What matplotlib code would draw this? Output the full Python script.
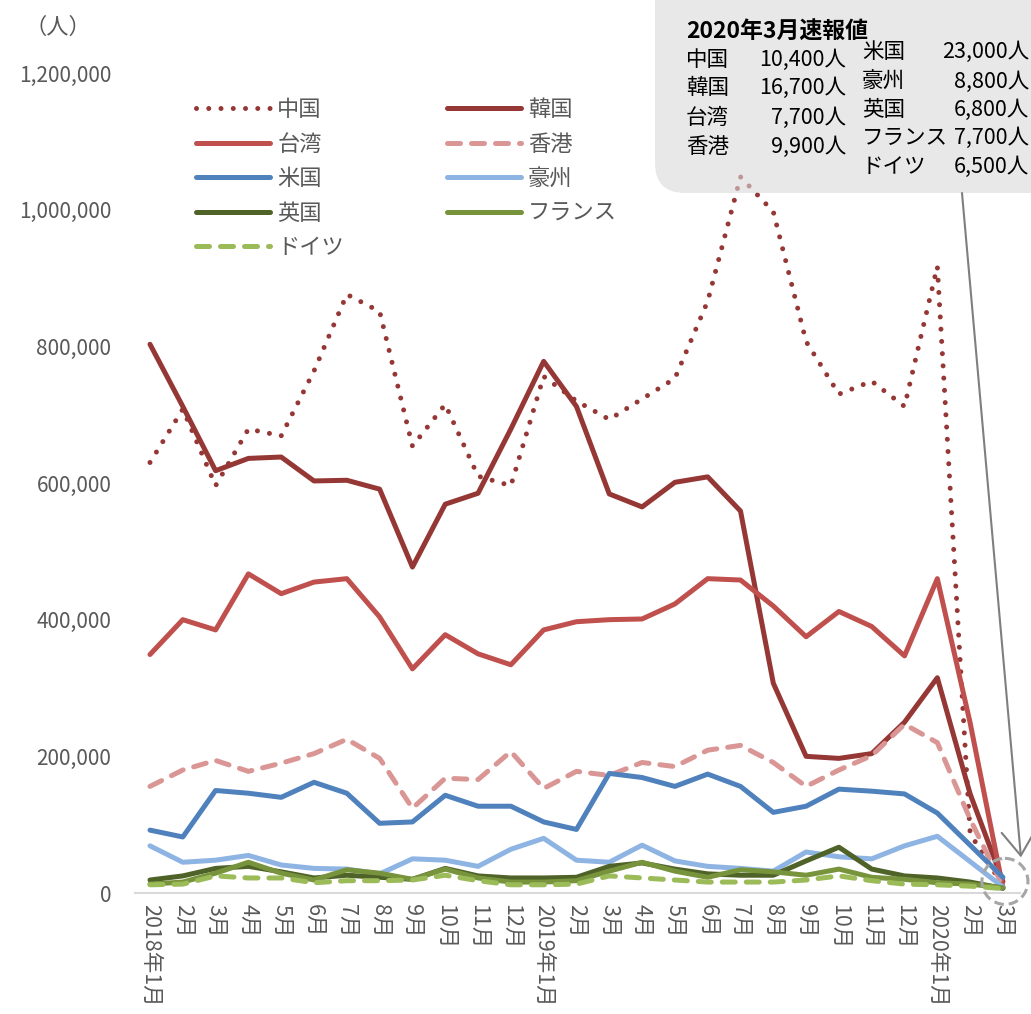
import matplotlib.pyplot as plt
from matplotlib.patches import FancyBboxPatch, Circle

plt.rcParams['font.family'] = ['Noto Sans CJK JP', 'DejaVu Sans']

# 2018年1月〜2020年3月 訪日外客数（人）
months = ['2018年1月', '2月', '3月', '4月', '5月', '6月', '7月', '8月', '9月', '10月', '11月', '12月',
          '2019年1月', '2月', '3月', '4月', '5月', '6月', '7月', '8月', '9月', '10月', '11月', '12月',
          '2020年1月', '2月', '3月']

china = [630000, 708000, 596000, 679000, 669000, 764000, 876000, 851000, 654000, 715000, 610000, 596000,
         756000, 720000, 693000, 723000, 753000, 866000, 1048000, 997000, 807000, 730000, 749000, 712000,
         917000, 87000, 10400]
korea = [803000, 712000, 618000, 636000, 638000, 603000, 604000, 591000, 477000, 569000, 585000, 679000,
         778000, 712000, 584000, 565000, 601000, 609000, 559000, 307000, 200000, 197000, 204000, 250000,
         315000, 145000, 16700]
taiwan = [349000, 400000, 385000, 467000, 438000, 455000, 460000, 404000, 328000, 378000, 350000, 334000,
          385000, 397000, 400000, 401000, 423000, 460000, 458000, 420000, 375000, 412000, 390000, 347000,
          460000, 249000, 7700]
hongkong = [156000, 180000, 194000, 178000, 190000, 204000, 225000, 197000, 124000, 168000, 166000, 207000,
            153000, 178000, 172000, 191000, 185000, 209000, 216000, 191000, 156000, 180000, 201000, 247000,
            220000, 108000, 9900]
usa = [92000, 82000, 150000, 146000, 140000, 162000, 146000, 102000, 104000, 143000, 127000, 127000,
       104000, 93000, 175000, 169000, 156000, 174000, 156000, 118000, 127000, 152000, 149000, 145000,
       117000, 70000, 23000]
australia = [69000, 45000, 48000, 55000, 41000, 36000, 35000, 28000, 50000, 48000, 39000, 64000,
             80000, 48000, 45000, 70000, 47000, 39000, 36000, 32000, 60000, 53000, 50000, 69000,
             83000, 46000, 8800]
uk = [19000, 25000, 36000, 39000, 31000, 22000, 26000, 23000, 20000, 36000, 25000, 22000,
      22000, 23000, 39000, 44000, 35000, 28000, 26000, 26000, 47000, 67000, 35000, 25000,
      22000, 16000, 6800]
france = [13000, 16000, 29000, 45000, 29000, 19000, 34000, 29000, 20000, 35000, 22000, 16000,
          16000, 18000, 32000, 45000, 32000, 23000, 34000, 31000, 26000, 35000, 23000, 20000,
          15000, 13000, 7700]
germany = [12000, 13000, 25000, 22000, 22000, 15000, 18000, 18000, 19000, 26000, 18000, 12000,
           12000, 13000, 25000, 22000, 19000, 16000, 16000, 16000, 19000, 25000, 18000, 13000,
           12000, 10000, 6500]

names = ['中国', '韓国', '台湾', '香港', '米国', '豪州', '英国', 'フランス', 'ドイツ']
values = [china, korea, taiwan, hongkong, usa, australia, uk, france, germany]
colors = ['#953735', '#953735', '#C0504D', '#D99694', '#4F81BD', '#8EB4E3', '#4F6228', '#77933C', '#9BBB59']
dotted = (0, (0.001, 2.45))
dashed = (0, (2.6, 2.2))
styles = [dotted, '-', '-', dashed, '-', '-', '-', '-', dashed]

W, H = 1031, 1014
gray = '#595959'
fig = plt.figure(figsize=(W / 100, H / 100), dpi=100)
ax = fig.add_axes([135 / W, (H - 893) / H, (1020 - 135) / W, (893 - 73) / H])

x = list(range(len(months)))
lines = []
for name, vals, c, ls in zip(names, values, colors, styles):
    ln, = ax.plot(x, vals, color=c, lw=3.6, linestyle=ls, label=name,
                  dash_capstyle='round', solid_capstyle='round', solid_joinstyle='round')
    lines.append(ln)

ax.set_xlim(-0.457, 26.52)
ax.set_ylim(0, 1200000)
yt = list(range(0, 1200001, 200000))
ax.set_yticks(yt)
ax.set_yticklabels([f'{v:,}' for v in yt], fontsize=15, color=gray)
ax.set_xticks(x)
ax.set_xticklabels(months, rotation=-90, va='top', ha='center', fontsize=15.5, color=gray)
ax.tick_params(axis='y', length=0, pad=17)
ax.tick_params(axis='x', length=0, pad=8)
for s in ['top', 'right', 'left']:
    ax.spines[s].set_visible(False)
ax.spines['bottom'].set_color('#d9d9d9')
ax.spines['bottom'].set_linewidth(1.5)

# overlay in pixel coordinates for annotations
ov = fig.add_axes([0, 0, 1, 1], zorder=5)
ov.set_xlim(0, W)
ov.set_ylim(H, 0)
ov.axis('off')
ov.patch.set_alpha(0)

order = [0, 2, 4, 6, 8, 1, 3, 5, 7]
ax.legend([lines[i] for i in order], [names[i] for i in order], ncol=2, frameon=False,
          loc='upper left', bbox_to_anchor=(196, 98), bbox_transform=ov.transData,
          fontsize=16, handlelength=3.35, handletextpad=0.3, labelspacing=0.52,
          columnspacing=4.63, borderpad=0, borderaxespad=0, labelcolor=gray)

ov.text(25, 27, '（人）', fontsize=16, color=gray, va='center', ha='left')

box = FancyBboxPatch((655, -60), 430, 253, boxstyle='round,pad=0,rounding_size=30',
                     fc='#d9d9d9', ec='none', alpha=0.6)
ov.add_patch(box)
ov.text(686, 32, '2020年3月速報値', fontsize=16.5, fontweight='bold', color='black', va='center')
left_y = [60, 88, 118, 147]
right_y = [52, 82, 110, 138, 167]
for i, yy in enumerate(left_y):
    ov.text(686, yy, names[i], fontsize=15.5, va='center', ha='left', color='black')
    ov.text(846, yy, f'{values[i][-1]:,}人', fontsize=15.5, va='center', ha='right', color='black')
for i, yy in enumerate(right_y):
    ov.text(862, yy, names[4 + i], fontsize=15.5, va='center', ha='left', color='black')
    ov.text(1029, yy, f'{values[4 + i][-1]:,}人', fontsize=15.5, va='center', ha='right', color='black')

# circle around the March 2020 points
dx, dy = ax.transData.transform((len(months) - 1, 17000))
cx, cy = dx, H - dy
ov.add_patch(Circle((cx + 2, cy), 23, fill=False, ec='#a6a6a6', lw=2.2, linestyle=(0, (3.2, 1.6))))
ov.annotate('', xy=(cx + 18, cy - 24), xytext=(962, 193),
            arrowprops=dict(arrowstyle='->,head_length=0.5,head_width=0.35', color='#7f7f7f',
                            lw=1.5, mutation_scale=35, shrinkA=0, shrinkB=0))

fig.savefig('out.png', dpi=100)
